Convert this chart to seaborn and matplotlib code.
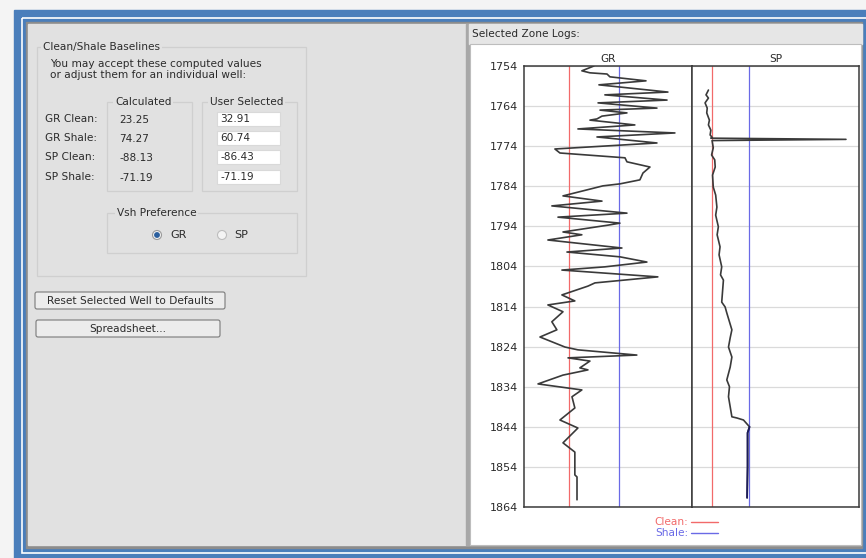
import numpy as np
import pandas as pd
import matplotlib
matplotlib.use("Agg")
import matplotlib.pyplot as plt
from matplotlib.patches import Rectangle, FancyBboxPatch, Circle
import seaborn as sns

# --- Data ---
row_labels = ["GR Clean:", "GR Shale:", "SP Clean:", "SP Shale:"]
calculated = ["23.25", "74.27", "-88.13", "-71.19"]
user_selected = [32.91, 60.74, -86.43, -71.19]

depth_ticks = list(range(1754, 1865, 10))

gr_depth = [1754.0, 1755.2, 1755.7, 1756.0, 1756.7, 1757.7, 1758.7, 1760.5, 1761.2,
            1762.5, 1763.2, 1764.5, 1765.0, 1765.7, 1766.5, 1767.2, 1767.5, 1768.7,
            1769.7, 1770.7, 1771.7, 1773.2, 1774.7, 1775.7, 1776.9, 1777.9, 1779.2,
            1780.7, 1782.4, 1783.4, 1783.9, 1786.4, 1787.7, 1788.9, 1790.7, 1791.7,
            1793.2, 1793.7, 1795.4, 1796.1, 1797.4, 1799.4, 1800.4, 1801.6, 1802.9,
            1804.1, 1804.9, 1806.6, 1808.1, 1808.9, 1811.1, 1812.6, 1813.6, 1815.3,
            1817.8, 1819.8, 1821.6, 1824.1, 1824.8, 1826.1, 1826.8, 1827.6, 1829.3,
            1829.8, 1831.1, 1833.3, 1834.8, 1836.5, 1839.3, 1842.3, 1844.3, 1848.0,
            1850.3, 1856.0, 1856.5, 1862.2]
gr_value = [46.8, 40.1, 44.6, 54.1, 55.7, 75.8, 49.6, 88.0, 52.9,
            87.5, 49.1, 81.9, 50.2, 65.2, 51.3, 48.5, 44.6, 69.6,
            37.9, 91.9, 48.5, 81.9, 25.1, 27.9, 64.1, 65.2, 78.0,
            74.1, 72.4, 61.3, 51.8, 29.6, 51.3, 23.4, 65.2, 26.8,
            61.3, 54.6, 29.6, 40.1, 21.2, 62.4, 31.8, 61.3, 76.3,
            52.9, 29.0, 82.4, 47.4, 43.5, 29.0, 36.2, 21.2, 29.6,
            23.4, 26.2, 16.8, 30.7, 37.9, 70.7, 32.4, 44.6, 39.0,
            43.5, 29.6, 15.7, 40.1, 34.6, 36.2, 27.9, 37.9, 29.6,
            36.2, 36.2, 37.4, 37.4]

sp_depth = [1760.0, 1761.2, 1762.0, 1763.2, 1764.5, 1765.7, 1767.5, 1768.7, 1770.0,
            1771.2, 1771.7, 1772.0, 1772.3, 1772.6, 1774.4, 1776.2, 1777.4, 1779.2,
            1781.2, 1784.2, 1786.2, 1789.2, 1791.2, 1794.1, 1796.1, 1799.1, 1801.1,
            1804.1, 1806.1, 1807.4, 1812.9, 1814.1, 1815.6, 1817.8, 1819.8, 1821.8,
            1824.1, 1826.6, 1829.1, 1832.3, 1834.0, 1836.5, 1839.0, 1841.5, 1841.8,
            1842.3, 1844.0, 1845.5, 1854.0, 1861.7]
sp_value = [-87.8, -88.8, -87.8, -89.2, -88.3, -88.5, -87.4, -87.8, -86.8,
            -87.1, -86.4, -86.8, -30.9, -86.3, -85.8, -86.5, -85.2, -85.0,
            -86.1, -85.8, -84.8, -84.3, -84.8, -83.7, -84.2, -83.0, -83.4,
            -82.3, -82.8, -81.6, -82.3, -80.9, -80.2, -79.1, -78.1, -78.8,
            -79.5, -78.1, -78.8, -80.2, -79.1, -79.5, -78.8, -78.1, -76.0,
            -73.3, -70.8, -71.6, -71.6, -71.8]

gr_df = pd.DataFrame({"depth": gr_depth, "GR": gr_value})
sp_df = pd.DataFrame({"depth": sp_depth, "SP": sp_value})

# --- Style ---
sns.set_style("white")
plt.rcParams["font.family"] = ["DejaVu Sans"]
TXT = "#2b2b2b"
CLEAN_C = "#f26a6a"
SHALE_C = "#6a6ae6"
PANEL = "#e1e1e1"
FS = 7.6

W, H = 866, 558
fig = plt.figure(figsize=(W / 100, H / 100), dpi=100)

# background canvas in pixel units for the dialog chrome
bg = fig.add_axes([0, 0, 1, 1])
bg.set_xlim(0, W)
bg.set_ylim(H, 0)
bg.axis("off")

bg.add_patch(Rectangle((0, 0), W, H, color="#f4f4f4"))
bg.add_patch(Rectangle((14, 10), W - 14, H - 10, color="#4a7ebb"))
bg.add_patch(Rectangle((22, 18), W, 553 - 18, fill=False, ec="white", lw=1.2))
bg.add_patch(Rectangle((26, 22), 862 - 26, 548 - 22, color="#8c8c8c"))
bg.add_patch(Rectangle((28, 24), 862 - 29, 545 - 24, color=PANEL))

# right panel: header bar and white plotting area
bg.add_patch(Rectangle((466, 24), 3, 521, color="#a8a8a8"))
bg.add_patch(Rectangle((469, 24), 862 - 469, 20, color="#e6e6e6"))
bg.add_patch(Rectangle((470, 44), 862 - 471, 545 - 44, color="white", ec="#bdbdbd", lw=0.8))
bg.text(472, 34, "Selected Zone Logs:", fontsize=FS, color=TXT, va="center")


def group_box(x0, y0, x1, y1, title, tx):
    bg.add_patch(Rectangle((x0, y0), x1 - x0, y1 - y0, fill=False, ec="#cfcfcf", lw=0.9))
    bg.text(tx, y0, title, fontsize=FS, color=TXT, va="center",
            bbox=dict(boxstyle="square,pad=0.15", fc=PANEL, ec="none"))


group_box(37, 47, 306, 276, "Clean/Shale Baselines", 43)
bg.text(50, 64, "You may accept these computed values", fontsize=FS, color=TXT, va="center")
bg.text(50, 75, "or adjust them for an individual well:", fontsize=FS, color=TXT, va="center")

group_box(107, 102, 192, 191, "Calculated", 115)
group_box(202, 102, 297, 191, "User Selected", 210)

row_y = [119, 138, 157, 177]
for lab, calc, usr, y in zip(row_labels, calculated, user_selected, row_y):
    bg.text(45, y, lab, fontsize=FS, color=TXT, va="center")
    bg.text(119, y + 1, calc, fontsize=FS, color=TXT, va="center")
    bg.add_patch(Rectangle((217, y - 7), 63, 14, fc="white", ec="#d9d9d9", lw=0.8))
    bg.text(220, y, f"{usr:.2f}", fontsize=FS, color=TXT, va="center")

group_box(107, 213, 297, 253, "Vsh Preference", 117)
bg.add_patch(Circle((157, 235), 4.5, fc="#f4f4f4", ec="#9a9a9a", lw=0.8))
bg.add_patch(Circle((157, 235), 2.2, color="#2b5f9e"))
bg.text(170, 235, "GR", fontsize=FS + 0.5, color=TXT, va="center")
bg.add_patch(Circle((222, 235), 4.5, fc="#f4f4f4", ec="#bdbdbd", lw=0.8))
bg.text(234, 235, "SP", fontsize=FS + 0.5, color=TXT, va="center")

for (x0, y0, x1, y1, lab) in [(35, 292, 225, 309, "Reset Selected Well to Defaults"),
                              (36, 320, 220, 337, "Spreadsheet...")]:
    bg.add_patch(FancyBboxPatch((x0, y0), x1 - x0, y1 - y0,
                                boxstyle="round,pad=0,rounding_size=2",
                                fc="#ececec", ec="#7a7a7a", lw=0.8))
    bg.text((x0 + x1) / 2, (y0 + y1) / 2, lab, fontsize=FS, color=TXT,
            ha="center", va="center")

# legend under the logs
bg.text(688, 522, "Clean:", fontsize=FS, color=CLEAN_C, ha="right", va="center")
bg.plot([691, 718], [522, 522], color=CLEAN_C, lw=1)
bg.text(688, 533, "Shale:", fontsize=FS, color=SHALE_C, ha="right", va="center")
bg.plot([691, 718], [533, 533], color=SHALE_C, lw=1)


def px_axes(x0, y0, x1, y1):
    return fig.add_axes([x0 / W, (H - y1) / H, (x1 - x0) / W, (y1 - y0) / H])


ax_gr = px_axes(524, 66, 692, 507)
ax_sp = px_axes(692, 66, 859, 507)

for ax in (ax_gr, ax_sp):
    ax.set_facecolor("white")
    ax.set_ylim(depth_ticks[-1], depth_ticks[0])
    ax.set_yticks(depth_ticks)
    ax.set_xticks([])
    ax.grid(axis="y", color="#dadada", lw=0.9)
    ax.set_axisbelow(True)
    for s in ax.spines.values():
        s.set_color("#3a3a3a")
        s.set_linewidth(1.1)

ax_gr.tick_params(axis="y", labelsize=8, colors=TXT, length=3, width=0.8, pad=1)
ax_sp.tick_params(axis="y", left=False, labelleft=False)

# GR track
ax_gr.set_xlim(7.9, 101.4)
ax_gr.axvline(user_selected[0], color=CLEAN_C, lw=0.9)
ax_gr.axvline(user_selected[1], color=SHALE_C, lw=0.9)
sns.lineplot(data=gr_df, x="GR", y="depth", sort=False, estimator=None,
             orient="y", color="#3a3a3a", lw=1.2, ax=ax_gr)
ax_gr.set_title("GR", fontsize=FS, color=TXT, pad=3)

# SP track
ax_sp.set_xlim(-94.6, -25.5)
ax_sp.axvline(user_selected[2], color=CLEAN_C, lw=0.9)
ax_sp.axvline(user_selected[3], color=SHALE_C, lw=0.9)
sns.lineplot(data=sp_df, x="SP", y="depth", sort=False, estimator=None,
             orient="y", color="#3a3a3a", lw=1.2, ax=ax_sp)
deep = sp_df[sp_df["depth"] >= 1844]
sns.lineplot(data=deep, x="SP", y="depth", sort=False, estimator=None,
             orient="y", color="#1c1c5c", lw=1.3, ax=ax_sp)
ax_sp.set_title("SP", fontsize=FS, color=TXT, pad=3)

for ax in (ax_gr, ax_sp):
    ax.set_xlabel("")
    ax.set_ylabel("")

fig.savefig("out.png", dpi=100)
